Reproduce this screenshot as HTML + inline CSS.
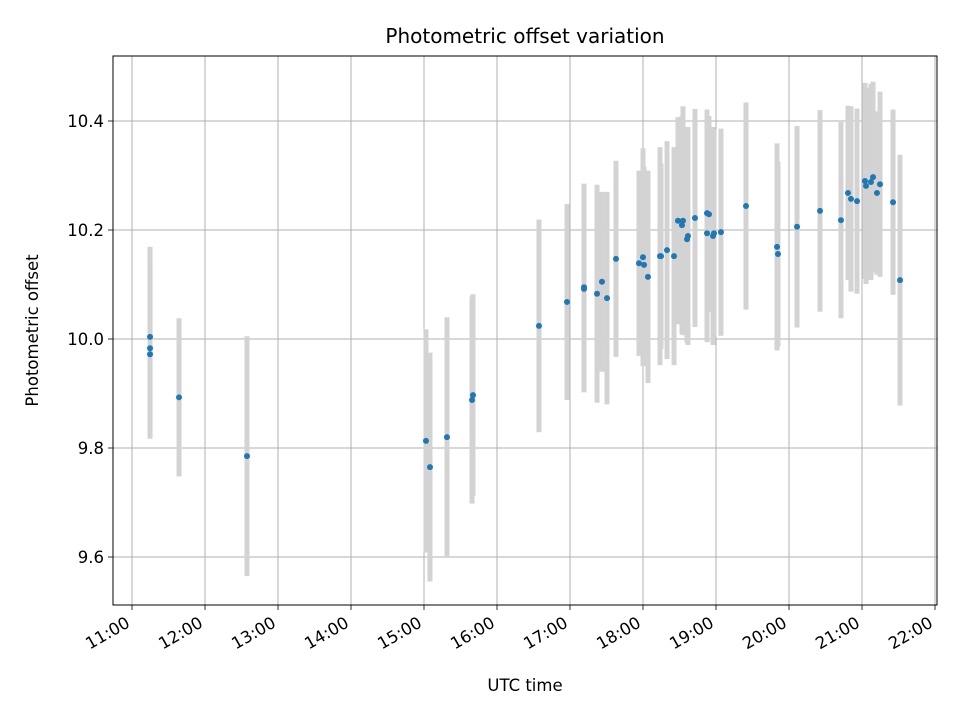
<!DOCTYPE html>
<html><head><meta charset="utf-8"><style>
body{margin:0;background:#fff;}
svg text{font-family:"DejaVu Sans","Liberation Sans",sans-serif;fill:#000;}
</style></head><body>
<svg id="chart" width="960" height="720" xmlns="http://www.w3.org/2000/svg">
<rect width="960" height="720" fill="#fff"/>
<g id="grid"></g><g id="bars"></g><g id="pts"></g><g id="axes"></g>
</svg>
<script>
const times=[11.247,11.247,11.247,11.644,12.575,15.027,15.082,15.315,15.658,15.671,16.575,16.959,17.192,17.192,17.370,17.438,17.507,17.630,17.945,18.000,18.014,18.068,18.233,18.247,18.329,18.425,18.479,18.548,18.534,18.616,18.603,18.712,18.877,18.904,18.877,18.959,18.973,19.068,19.411,19.836,19.849,20.110,20.425,20.712,20.808,20.849,20.932,21.041,21.055,21.123,21.151,21.205,21.247,21.425,21.521];
const values=[10.004,9.983,9.972,9.893,9.785,9.813,9.765,9.820,9.888,9.897,10.024,10.068,10.095,10.092,10.083,10.105,10.075,10.147,10.139,10.150,10.136,10.114,10.152,10.152,10.163,10.152,10.217,10.217,10.209,10.189,10.183,10.222,10.231,10.229,10.194,10.189,10.194,10.196,10.244,10.169,10.156,10.206,10.235,10.218,10.268,10.257,10.253,10.290,10.281,10.288,10.297,10.268,10.284,10.251,10.108];
const errors=[0.165,0.15,0.155,0.145,0.22,0.205,0.21,0.22,0.19,0.185,0.195,0.18,0.19,0.19,0.2,0.165,0.195,0.18,0.17,0.2,0.18,0.195,0.2,0.17,0.2,0.2,0.19,0.21,0.2,0.2,0.19,0.2,0.19,0.18,0.2,0.2,0.19,0.19,0.19,0.19,0.17,0.185,0.185,0.18,0.16,0.17,0.17,0.18,0.18,0.18,0.175,0.15,0.17,0.17,0.23];
const xTicks=[11,12,13,14,15,16,17,18,19,20,21,22];
const xTickLabels=["11:00","12:00","13:00","14:00","15:00","16:00","17:00","18:00","19:00","20:00","21:00","22:00"];
const yTicks=[9.6,9.8,10.0,10.2,10.4];
const yTickLabels=["9.6","9.8","10.0","10.2","10.4"];
const L=113,R=937,T=56,B=605;
const X=h=>132+(h-11)*73;
const Y=v=>121+(10.4-v)*545;
const NS="http://www.w3.org/2000/svg";
function mk(p,tag,a,txt){const e=document.createElementNS(NS,tag);for(const k in a)e.setAttribute(k,a[k]);if(txt!==undefined)e.textContent=txt;p.appendChild(e);return e;}
const grid=document.getElementById('grid'),bars=document.getElementById('bars'),pts=document.getElementById('pts'),axes=document.getElementById('axes');
xTicks.forEach((t,i)=>{const x=X(t);
 const g=mk(grid,'line',{x1:x,x2:x,y1:T,y2:B,stroke:'#b0b0b0','stroke-width':1});
 
 mk(axes,'line',{x1:x,x2:x,y1:B,y2:B+5,stroke:'#000','stroke-width':0.8});
 const ax=x-1, ay=B+21;
 const tx=mk(axes,'text',{x:ax,y:ay,'font-size':16.5,'text-anchor':'end',transform:`rotate(-30 ${ax} ${ay})`},xTickLabels[i]);
 });
yTicks.forEach((t,i)=>{const y=Y(t);
 const g=mk(grid,'line',{x1:L,x2:R,y1:y,y2:y,stroke:'#b0b0b0','stroke-width':1});
 
 mk(axes,'line',{x1:L-5,x2:L,y1:y,y2:y,stroke:'#000','stroke-width':0.8});
 const tx=mk(axes,'text',{x:L-9,y:y+6,'font-size':16.5,'text-anchor':'end'},yTickLabels[i]);
 });
times.forEach((t,i)=>{const x=X(t);
 const b=mk(bars,'line',{x1:x,x2:x,y1:Y(values[i]+errors[i]),y2:Y(values[i]-errors[i]),stroke:'#d3d3d3','stroke-width':5});
 });
times.forEach((t,i)=>{
 const c=mk(pts,'circle',{cx:X(t),cy:Y(values[i]),r:3,fill:'#1f77b4'});
 });
const fr=mk(axes,'rect',{x:L,y:T,width:R-L,height:B-T,fill:'none',stroke:'#000','stroke-width':1});

const ti=mk(axes,'text',{x:(L+R)/2,y:43,'font-size':20,'text-anchor':'middle'},'Photometric offset variation');

const xl=mk(axes,'text',{x:(L+R)/2,y:691,'font-size':16.5,'text-anchor':'middle'},'UTC time');

const yl=mk(axes,'text',{x:38,y:(T+B)/2,'font-size':16.5,'text-anchor':'middle',transform:`rotate(-90 38 ${(T+B)/2})`},'Photometric offset');

</script>
</body></html>
